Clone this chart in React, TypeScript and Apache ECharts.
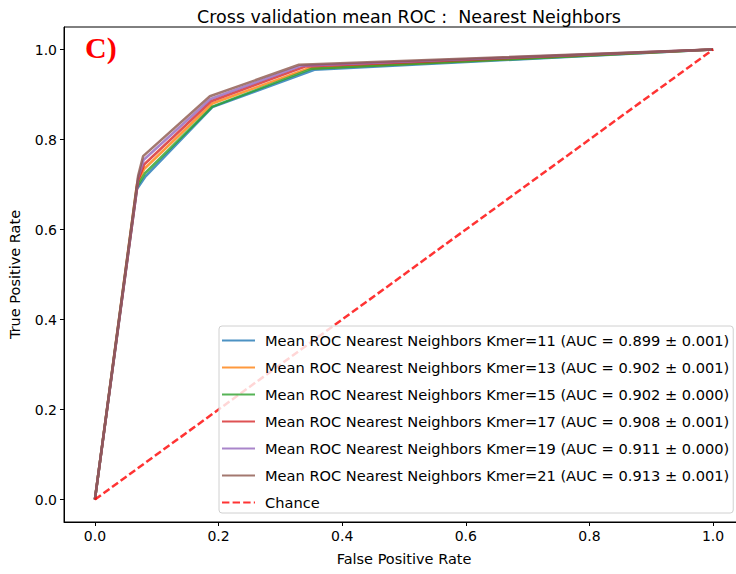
import React, { useEffect, useRef } from "react";
import * as echarts from "echarts";

const seriesNames = [
  "Mean ROC Nearest Neighbors Kmer=11 (AUC = 0.899 ± 0.001)",
  "Mean ROC Nearest Neighbors Kmer=13 (AUC = 0.902 ± 0.001)",
  "Mean ROC Nearest Neighbors Kmer=15 (AUC = 0.902 ± 0.000)",
  "Mean ROC Nearest Neighbors Kmer=17 (AUC = 0.908 ± 0.001)",
  "Mean ROC Nearest Neighbors Kmer=19 (AUC = 0.911 ± 0.000)",
  "Mean ROC Nearest Neighbors Kmer=21 (AUC = 0.913 ± 0.001)",
];
const seriesColors = ["#1f77b4", "#ff7f0e", "#2ca02c", "#d62728", "#9467bd", "#8c564b"];

const roc11 = [[0, 0], [0.068, 0.69], [0.082, 0.718], [0.19, 0.872], [0.355, 0.955], [1, 1]];
const roc13 = [[0, 0], [0.068, 0.7], [0.08, 0.735], [0.19, 0.88], [0.345, 0.958], [1, 1]];
const roc15 = [[0, 0], [0.068, 0.695], [0.081, 0.725], [0.19, 0.873], [0.35, 0.957], [1, 1]];
const roc17 = [[0, 0], [0.07, 0.71], [0.08, 0.745], [0.188, 0.885], [0.34, 0.962], [1, 1]];
const roc19 = [[0, 0], [0.07, 0.715], [0.079, 0.755], [0.187, 0.89], [0.335, 0.964], [1, 1]];
const roc21 = [[0, 0], [0.07, 0.72], [0.078, 0.763], [0.186, 0.896], [0.33, 0.966], [1, 1]];
const rocData = [roc11, roc13, roc15, roc17, roc19, roc21];

const chanceName = "Chance";
const chanceData = [[0, 0], [1, 1]];

const tickValues = [0, 0.2, 0.4, 0.6, 0.8, 1.0];

export default function App() {
  const ref = useRef<HTMLDivElement>(null);
  useEffect(() => {
    if (!ref.current) return;
    const chart = echarts.init(ref.current, null, { renderer: "svg" });
    const font = "DejaVu Sans";
    const series: any[] = rocData.map((d, i) => ({
      type: "line",
      name: seriesNames[i],
      data: d,
      symbol: "none",
      color: seriesColors[i],
      lineStyle: { width: 2.5, opacity: 0.8, color: seriesColors[i] },
      itemStyle: { color: seriesColors[i] },
    }));
    series.push({
      type: "line",
      name: chanceName,
      data: chanceData,
      symbol: "none",
      color: "#ff0000",
      lineStyle: { width: 2.5, opacity: 0.8, color: "#ff0000", type: [7.4, 3.2] },
      itemStyle: { color: "#ff0000" },
    });
    const axisCommon = {
      type: "value",
      min: -0.05,
      max: 1.05,
      splitLine: { show: false },
      axisLine: { show: true, onZero: false, lineStyle: { color: "#000", width: 1 } },
      axisTick: {
        show: true,
        length: 4,
        customValues: tickValues,
        lineStyle: { color: "#000", width: 1 },
      },
      axisLabel: {
        show: true,
        customValues: tickValues,
        formatter: (v: number) => v.toFixed(1),
        color: "#000",
        fontFamily: font,
        fontSize: 14,
        margin: 7,
      },
      nameLocation: "middle",
      nameTextStyle: { color: "#000", fontFamily: font, fontSize: 14.5 },
    };
    chart.setOption({
      animation: false,
      backgroundColor: "#fff",
      title: {
        text: "Cross validation mean ROC :  Nearest Neighbors",
        left: 404,
        top: 3,
        textAlign: "center",
        textStyle: { color: "#000", fontFamily: font, fontSize: 17.5, fontWeight: "normal" },
      },
      grid: {
        left: 64,
        top: 27,
        width: 680,
        bottom: 52,
        outerBoundsMode: "none",
        containLabel: false,
        show: true,
        borderColor: "#000",
        borderWidth: 1,
        backgroundColor: "transparent",
      },
      xAxis: { ...axisCommon, name: "False Positive Rate", nameGap: 29 },
      yAxis: { ...axisCommon, name: "True Positive Rate", nameGap: 42 },
      legend: {
        orient: "vertical",
        left: 219,
        top: 326,
        padding: [7, 4, 3, 2],
        itemWidth: 33,
        itemHeight: 14,
        itemGap: 12,
        backgroundColor: "rgba(255,255,255,0.8)",
        borderColor: "#d0d0d0",
        borderWidth: 1,
        borderRadius: 3,
        itemStyle: { opacity: 0 },
        textStyle: { color: "#000", fontFamily: font, fontSize: 14.6, padding: [0, 0, 0, 5] },
        data: [...seriesNames, chanceName],
      },
      graphic: [
        {
          type: "text",
          left: 85,
          top: 32,
          style: {
            text: "C)",
            fill: "#ff0000",
            font: "bold 30px 'Liberation Serif', 'Times New Roman', serif",
          },
          z: 100,
        },
      ],
      series,
    });
    return () => chart.dispose();
  }, []);
  return (
    <div
      ref={ref}
      style={{ position: "fixed", left: 0, top: 0, width: 736, height: 574 }}
    />
  );
}
